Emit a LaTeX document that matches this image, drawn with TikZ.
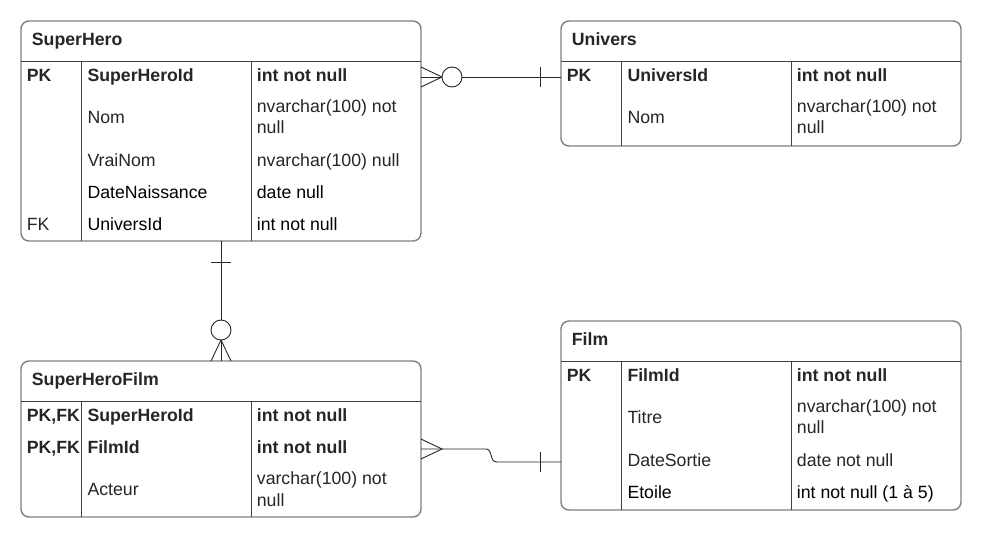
\documentclass[tikz,border=0pt]{standalone}
\usepackage{fontspec}
\setmainfont{Liberation Sans}
\usetikzlibrary{calc}
\newcommand\erfs{\fontsize{17.7}{21}\selectfont}
\begin{document}
\begin{tikzpicture}[x=1pt,y=-1pt,
  tbl/.style={draw=black!50, line width=1.4pt, rounded corners=8pt, fill=white, inner sep=0pt, outer sep=0pt},
  divline/.style={draw=black!75, line width=0.9pt},
  conn/.style={draw=black!85, line width=0.9pt},
  txt/.style={anchor=base west, inner sep=0pt, font=\erfs, text=black!85},
  btxt/.style={txt, font=\erfs\bfseries},
  ring/.style={circle, draw=black!85, line width=0.9pt, fill=white, minimum size=20pt, inner sep=0pt}]
\useasboundingbox (0,0) rectangle (981,538);

% ---------- tables ----------
\node[tbl, minimum width=400pt, minimum height=220pt] (superhero) at (221,131) {};
\node[tbl, minimum width=400pt, minimum height=125pt] (univers) at (761,83.5) {};
\node[tbl, minimum width=400pt, minimum height=189pt] (film) at (761,415.5) {};
\node[tbl, minimum width=400pt, minimum height=156pt] (shfilm) at (221,439) {};

% internal lines
\draw[divline] (21,61) -- (421,61) (81,61) -- (81,241) (251,61) -- (251,241);
\draw[divline] (561,61) -- (961,61) (621,61) -- (621,146) (791,61) -- (791,146);
\draw[divline] (561,361.5) -- (961,361.5) (621,361.5) -- (621,510) (791,361.5) -- (791,510);
\draw[divline] (21,401) -- (421,401) (81,401) -- (81,517) (251,401) -- (251,517);

% ---------- SuperHero ----------
\node[btxt] (shT) at (31.7,45) {SuperHero};
\node[btxt] (shPK) at (26.7,81.5) {PK};
\node[btxt] (shA1) at (87.3,81.5) {SuperHeroId};
\node[btxt] (shB1) at (256.7,81.5) {int not null};
\node[txt] (shA2) at (87.3,123.3) {Nom};
\node[txt] (shB2a) at (256.7,112) {nvarchar(100) not};
\node[txt] (shB2b) at (256.7,133.3) {null};
\node[txt] (shA3) at (87.3,166.5) {VraiNom};
\node[txt] (shB3) at (256.7,166.5) {nvarchar(100) null};
\node[txt, text=black] (shA4) at (87.3,198.3) {DateNaissance};
\node[txt, text=black] (shB4) at (256.7,198.3) {date null};
\node[txt] (shFK) at (26.7,230) {FK};
\node[txt, text=black] (shA5) at (87.3,230) {UniversId};
\node[txt, text=black] (shB5) at (256.7,230) {int not null};

% ---------- Univers ----------
\node[btxt] (unT) at (571.7,45) {Univers};
\node[btxt] (unPK) at (566.7,81.5) {PK};
\node[btxt] (unA1) at (627.3,81.5) {UniversId};
\node[btxt] (unB1) at (796.7,81.5) {int not null};
\node[txt] (unA2) at (627.3,123.3) {Nom};
\node[txt] (unB2a) at (796.7,112) {nvarchar(100) not};
\node[txt] (unB2b) at (796.7,133.3) {null};

% ---------- Film ----------
\node[btxt] (fiT) at (571.7,345) {Film};
\node[btxt] (fiPK) at (566.7,381.5) {PK};
\node[btxt] (fiA1) at (627.3,381.5) {FilmId};
\node[btxt] (fiB1) at (796.7,381.5) {int not null};
\node[txt] (fiA2) at (627.3,423.3) {Titre};
\node[txt] (fiB2a) at (796.7,412) {nvarchar(100) not};
\node[txt] (fiB2b) at (796.7,433.3) {null};
\node[txt] (fiA3) at (627.3,466.5) {DateSortie};
\node[txt] (fiB3) at (796.7,466.5) {date not null};
\node[txt, text=black] (fiA4) at (627.3,498.3) {Etoile};
\node[txt, text=black] (fiB4) at (796.7,498.3) {int not null (1 à 5)};

% ---------- SuperHeroFilm ----------
\node[btxt] (sfT) at (31.7,385) {SuperHeroFilm};
\node[btxt] (sfPK1) at (26.7,421.5) {PK,FK};
\node[btxt] (sfA1) at (87.3,421.5) {SuperHeroId};
\node[btxt] (sfB1) at (256.7,421.5) {int not null};
\node[btxt] (sfPK2) at (26.7,453.3) {PK,FK};
\node[btxt] (sfA2) at (87.3,453.3) {FilmId};
\node[btxt] (sfB2) at (256.7,453.3) {int not null};
\node[txt] (sfA3) at (87.3,495.5) {Acteur};
\node[txt] (sfB3a) at (256.7,484.5) {varchar(100) not};
\node[txt] (sfB3b) at (256.7,506) {null};

% ---------- connector SuperHero -- Univers ----------
\coordinate (c1a) at (superhero.east |- 0,77);
\coordinate (c1b) at (univers.west |- 0,77);
\coordinate (c1tip) at (442,77);
\draw[conn] (c1a) -- (c1b);
\draw[conn] ($(c1a)+(0,-10)$) -- (c1tip) -- ($(c1a)+(0,10)$);
\node[ring] (r1) at (452,77) {};
\draw[conn] (540,67) -- (540,87);

% ---------- connector SuperHero -- SuperHeroFilm ----------
\coordinate (c2a) at (superhero.south -| 221,0);
\coordinate (c2b) at (shfilm.north -| 221,0);
\coordinate (c2tip) at (221,340);
\draw[conn] (c2a) -- (c2b);
\draw[conn] ($(c2b)+(-10,0)$) -- (c2tip) -- ($(c2b)+(10,0)$);
\node[ring] (r2) at (221,330) {};
\draw[conn] (211,262) -- (231,262);

% ---------- connector SuperHeroFilm -- Film ----------
\coordinate (c3a) at (shfilm.east |- 0,449);
\coordinate (c3b) at (film.west |- 0,462);
\coordinate (c3tip) at (442,449);
\draw[conn] (c3a) -- (486,449) .. controls (493,449) and (489,462) .. (497,462) -- (c3b);
\draw[conn] ($(c3a)+(0,-10)$) -- (c3tip) -- ($(c3a)+(0,10)$);
\draw[conn] (540,452) -- (540,472);
\end{tikzpicture}
\end{document}
